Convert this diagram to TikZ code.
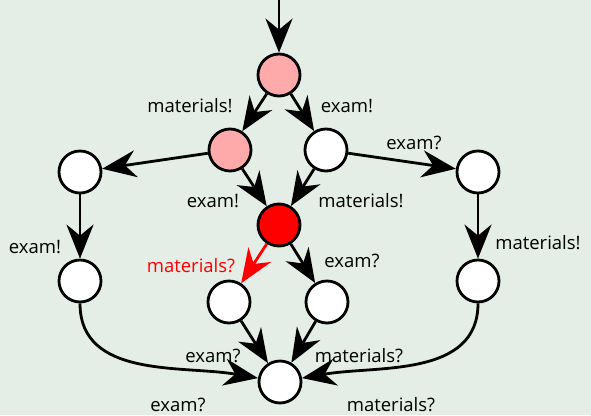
\documentclass[tikz,border=0pt]{standalone}
\usepackage{fontspec}
\setmainfont{Open Sans}
\usetikzlibrary{arrows.meta}
\definecolor{bgcol}{HTML}{E4EEE6}
\definecolor{seen}{HTML}{FFAAAA}

\begin{document}
\begin{tikzpicture}[x=1pt,y=-1pt,
  st/.style={circle,draw,line width=2.8pt,fill=white,minimum size=42pt,inner sep=0pt},
  tr/.style={line width=2.8pt,-{Stealth[length=34pt,width=27pt,inset=11pt]}},
  lab/.style={font=\fontsize{18.5}{22}\selectfont,inner sep=0pt}]
  \fill[bgcol] (0,0) rectangle (591,415);
  \useasboundingbox (0,0) rectangle (591,415);
  % states
  \coordinate (entry) at (279,0);
  \node[st,fill=seen] (top) at (279,75) {};
  \node[st,fill=seen] (mat) at (230,150) {};
  \node[st] (exm) at (326,150) {};
  \node[st,fill=red] (both) at (279,225) {};
  \node[st] (left) at (80,172) {};
  \node[st] (right) at (478,172) {};
  \node[st] (left2) at (80,281) {};
  \node[st] (right2) at (478,281) {};
  \node[st] (askm) at (229,302) {};
  \node[st] (aske) at (327,302) {};
  \node[st] (done) at (280,382) {};
  % transitions
  \draw[tr] (entry) -- (top);
  \foreach \a/\b in {top/mat,top/exm,mat/left,exm/right,mat/both,exm/both,
                     left/left2,right/right2,both/aske,askm/done,aske/done}{
    \draw[tr] (\a) -- (\b);
  }
  \draw[tr,red] (both) -- (askm);
  \draw[tr] (left2) to[out=-90,in=170] (done);
  \draw[tr] (right2) to[out=-90,in=10] (done);
  % labels
  \node[lab] (l1) at (190,106) {materials!};
  \node[lab] (l2) at (347,106) {exam!};
  \node[lab] (l3) at (414,143) {exam?};
  \node[lab] (l4) at (213,201) {exam!};
  \node[lab] (l5) at (361,201) {materials!};
  \node[lab] (l6) at (35,247) {exam!};
  \node[lab] (l7) at (538,243) {materials!};
  \node[lab,red] (l8) at (191,266) {materials?};
  \node[lab] (l9) at (352,261) {exam?};
  \node[lab] (l10) at (213,356) {exam?};
  \node[lab] (l11) at (359,356) {materials?};
  \node[lab] (l12) at (178,405) {exam?};
  \node[lab] (l13) at (391,405) {materials?};
\end{tikzpicture}
\end{document}
